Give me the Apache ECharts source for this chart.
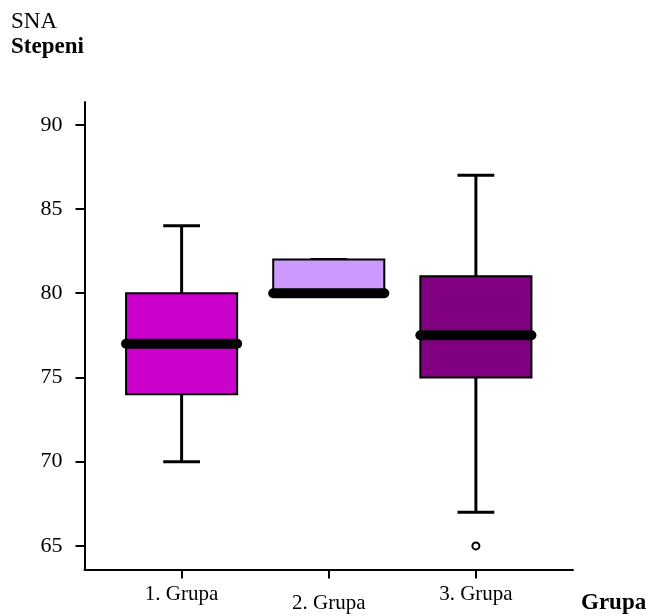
<!DOCTYPE html>
<html>
<head>
<meta charset="utf-8">
<script src="https://cdn.jsdelivr.net/npm/echarts@6/dist/echarts.min.js"></script>
<style>
html,body{margin:0;padding:0;background:#fff;}
#chart{width:650px;height:616px;}
</style>
</head>
<body>
<div id="chart"></div>
<script>
// ---- data ----
const categories = ['1. Grupa', '2. Grupa', '3. Grupa'];
const lowWhisker = [70, 80, 67];
const q1 = [74, 80, 75];
const median = [77, 80, 77.5];
const q3 = [80, 82, 81];
const highWhisker = [84, 82, 87];
const outliers = [[3, 65]]; // [group number, value]
const yTicks = [65, 70, 75, 80, 85, 90];
const boxColors = ['#CC00CC', '#CC99FF', '#800080'];

const FONT = '"Liberation Serif", "Times New Roman", serif';

const boxData = categories.map((c, i) => [i + 1, lowWhisker[i], q1[i], median[i], q3[i], highWhisker[i]]);

const BOX_W = 0.755;   // in x units
const CAP_W = 0.25;

function renderBox(params, api) {
  const x = api.value(0);
  const lo = api.value(1), a = api.value(2), m = api.value(3), b = api.value(4), hi = api.value(5);
  const pLo = api.coord([x, lo]), pA = api.coord([x, a]), pM = api.coord([x, m]),
        pB = api.coord([x, b]), pHi = api.coord([x, hi]);
  const hb = api.size([BOX_W, 0])[0] / 2;
  const hc = api.size([CAP_W, 0])[0] / 2;
  const cx = pM[0];
  const lineStyle = { stroke: '#000', lineWidth: 3 };
  const children = [];
  // whiskers
  if (hi > b) children.push({ type: 'line', shape: { x1: cx, y1: pB[1], x2: cx, y2: pHi[1] }, style: lineStyle });
  children.push({ type: 'line', shape: { x1: cx - hc, y1: pHi[1], x2: cx + hc, y2: pHi[1] }, style: lineStyle });
  if (lo < a) {
    children.push({ type: 'line', shape: { x1: cx, y1: pA[1], x2: cx, y2: pLo[1] }, style: lineStyle });
    children.push({ type: 'line', shape: { x1: cx - hc, y1: pLo[1], x2: cx + hc, y2: pLo[1] }, style: lineStyle });
  }
  // box
  children.push({
    type: 'rect',
    shape: { x: cx - hb, y: pB[1], width: hb * 2, height: pA[1] - pB[1] },
    style: { fill: boxColors[params.dataIndex], stroke: '#000', lineWidth: 2 }
  });
  // median
  children.push({
    type: 'line',
    shape: { x1: cx - hb, y1: pM[1], x2: cx + hb, y2: pM[1] },
    style: { stroke: '#000', lineWidth: 10, lineCap: 'round' }
  });
  return { type: 'group', children: children };
}

const chart = echarts.init(document.getElementById('chart'), null, { renderer: 'canvas' });
chart.setOption({
  backgroundColor: '#fff',
  animation: false,
  grid: { left: 84.5, right: 77, top: 102, bottom: 46.5, containLabel: false },
  xAxis: {
    type: 'value',
    min: 0.34,
    max: 3.66,
    splitLine: { show: false },
    axisLine: { show: true, onZero: false, lineStyle: { color: '#000', width: 2 } },
    axisTick: { show: true, customValues: [1, 2, 3], length: 9, lineStyle: { color: '#000', width: 2 } },
    axisLabel: {
      customValues: [1, 2, 3],
      margin: 14,
      formatter: function (v) {
        const i = Math.round(v) - 1;
        return i === 1 ? '{b|' + categories[i] + '}' : '{a|' + categories[i] + '}';
      },
      rich: {
        a: { fontFamily: FONT, fontSize: 21, color: '#000' },
        b: { fontFamily: FONT, fontSize: 21, color: '#000', padding: [9, 0, 0, 0] }
      }
    }
  },
  yAxis: {
    type: 'value',
    min: 63.6,
    max: 91.35,
    splitLine: { show: false },
    axisLine: { show: true, onZero: false, lineStyle: { color: '#000', width: 2 } },
    axisTick: { show: true, customValues: yTicks, length: 9, lineStyle: { color: '#000', width: 2 } },
    axisLabel: { customValues: yTicks, margin: 22, fontFamily: FONT, fontSize: 22, color: '#000' }
  },
  graphic: [
    { type: 'text', left: 11, top: 10, style: { text: 'SNA', font: '23px ' + FONT, fill: '#000' } },
    { type: 'text', left: 11, top: 36, style: { text: 'Stepeni', font: 'bold 23px ' + FONT, fill: '#000' } },
    { type: 'text', left: 581, top: 592, style: { text: 'Grupa', font: 'bold 23px ' + FONT, fill: '#000' } }
  ],
  series: [
    {
      type: 'custom',
      renderItem: renderBox,
      encode: { x: 0, y: [1, 2, 3, 4, 5] },
      data: boxData,
      z: 2
    },
    {
      type: 'scatter',
      data: outliers,
      symbol: 'circle',
      symbolSize: 7,
      itemStyle: { color: '#fff', borderColor: '#000', borderWidth: 2, opacity: 1 },
      z: 3
    }
  ]
});
</script>
</body>
</html>
